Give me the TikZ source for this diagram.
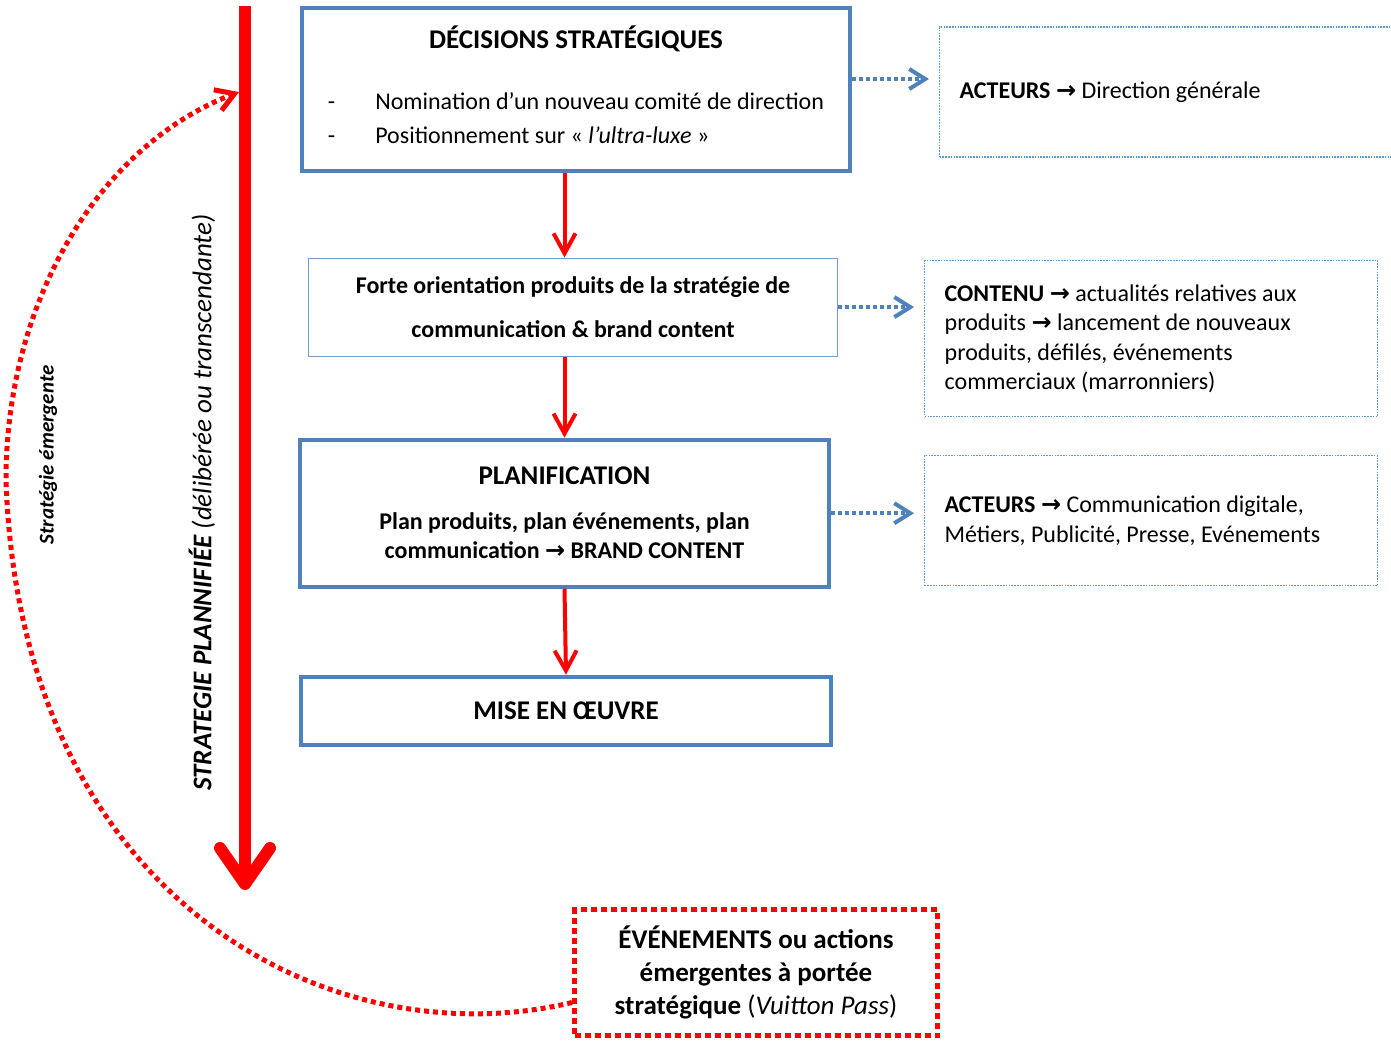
\documentclass[tikz,border=0pt]{standalone}
\usepackage{fontspec}
\setmainfont{Carlito}
\newfontfamily\flechefont{DejaVu Sans}
\usepackage{tikz}
\usetikzlibrary{arrows.meta,positioning,calc}
\definecolor{LvBlue}{HTML}{4F81BD}
\definecolor{LvSky}{HTML}{5B9BD5}
\definecolor{LvRed}{HTML}{FF0000}
\newcommand{\fl}{{\flechefont\bfseries →}}
\newcommand{\titre}[1]{{\fontsize{13.5}{15}\selectfont\bfseries #1}}

\begin{document}
\begin{tikzpicture}[x=0.5pt,y=-0.5pt,every node/.style={font=\fontsize{12}{15}\selectfont},
  boite/.style={draw=LvBlue,line width=2pt,align=center},
  cadre/.style={draw=LvSky,line width=0.6pt,dash pattern=on 0.8pt off 0.6pt,align=flush left,inner xsep=10pt,text width=206.5pt},
  arr/.style={-{Straight Barb[length=10pt,width=11pt]},line width=2pt,LvRed},
  pointille/.style={-{Straight Barb[length=8pt,width=10pt]},line width=2pt,LvBlue,dash pattern=on 2pt off 1.5pt,shorten >=5pt}]
\useasboundingbox (0,0) rectangle (1391,1041);
\node[boite,minimum width=274pt,minimum height=81.5pt,font=\fontsize{12}{17}\selectfont] (dec) at (576,89.5) {\titre{DÉCISIONS STRATÉGIQUES}\\[13.5pt]\begin{tabular}[t]{@{}l@{\hspace{20pt}}l@{}}-&Nomination d’un nouveau comité de direction\\-&Positionnement sur «~\textit{l’ultra-luxe}~»\end{tabular}};
\node[boite,draw=LvBlue!80,line width=0.6pt,minimum width=264.5pt,minimum height=49pt,font=\fontsize{12}{22}\selectfont\bfseries,below=42.25pt of dec,xshift=-1.5pt] (forte) {Forte orientation produits de la stratégie de\\communication \& brand content};
\node[boite,minimum width=264.5pt,minimum height=73.5pt,font=\fontsize{12}{14.5}\selectfont\bfseries,below=40.5pt of forte,xshift=-4.25pt] (plan) {\titre{PLANIFICATION}\\[8pt]Plan produits, plan événements, plan\\communication \fl{} BRAND CONTENT};
\node[boite,minimum width=265pt,minimum height=34pt,font=\fontsize{13.5}{15}\selectfont\bfseries,below=43pt of plan,xshift=0.75pt] (mise) {MISE EN ŒUVRE};
\node[cadre,minimum height=65pt,right=43.5pt of dec,yshift=-1.25pt] (act1) {\textbf{ACTEURS} \fl{} Direction générale};
\node[cadre,minimum height=78pt,font=\fontsize{12}{14.75}\selectfont,right=43pt of forte,yshift=-15.75pt] (cont) {\textbf{CONTENU} \fl{} actualités relatives aux\\produits \fl{} lancement de nouveaux\\produits, défilés, événements\\commerciaux (marronniers)};
\node[cadre,minimum height=65pt,right=46.5pt of plan,yshift=-3.75pt] (act2) {\textbf{ACTEURS} \fl{} Communication digitale,\\Métiers, Publicité, Presse, Evénements};
\node[draw=LvRed,line width=2.5pt,dash pattern=on 3pt off 2pt,minimum width=181.5pt,minimum height=63pt,align=center,font=\fontsize{13.5}{16.5}\selectfont\bfseries] (evt) at (756,972.5) {ÉVÉNEMENTS ou actions\\émergentes à portée\\stratégique \textmd{(\textit{Vuitton Pass})}};
\node[rotate=90,font=\fontsize{13.5}{15}\selectfont\itshape] (planif) at (202,502.5) {\textbf{STRATEGIE PLANNIFIÉE} (délibérée ou transcendante)};
\node[rotate=90,font=\fontsize{10.5}{12}\selectfont\bfseries\itshape] (emerg) at (48,455) {Stratégie émergente};
\coordinate (haut) at (245,6);
\coordinate (bas) at (245,890);
\coordinate (retour) at (239,92);
\coordinate (gauche) at (6,480);
\draw[LvRed,line width=6pt,-{Straight Barb[length=18pt,width=25pt,round]}] (haut) -- (bas);
\draw[arr] (dec.south -| plan.north) -- (forte.north -| plan.north);
\draw[arr] (forte.south -| plan.north) -- (plan.north);
\draw[arr] (plan.south) -- (mise.north);
\draw[pointille] ([yshift=5.25pt]dec.east) -- ([yshift=5.25pt]dec.east -| act1.west);
\draw[pointille] (forte.east) -- (forte.east -| cont.west);
\draw[pointille] (plan.east) -- (plan.east -| act2.west);
\draw[LvRed,line width=2.5pt,dash pattern=on 2.5pt off 2pt,-{Straight Barb[length=9pt,width=11pt]}] ([yshift=-15pt]evt.west) .. controls (330,1060) and (20,900) .. (gauche) .. controls (6,300) and (100,145) .. (retour);
\end{tikzpicture}
\end{document}
